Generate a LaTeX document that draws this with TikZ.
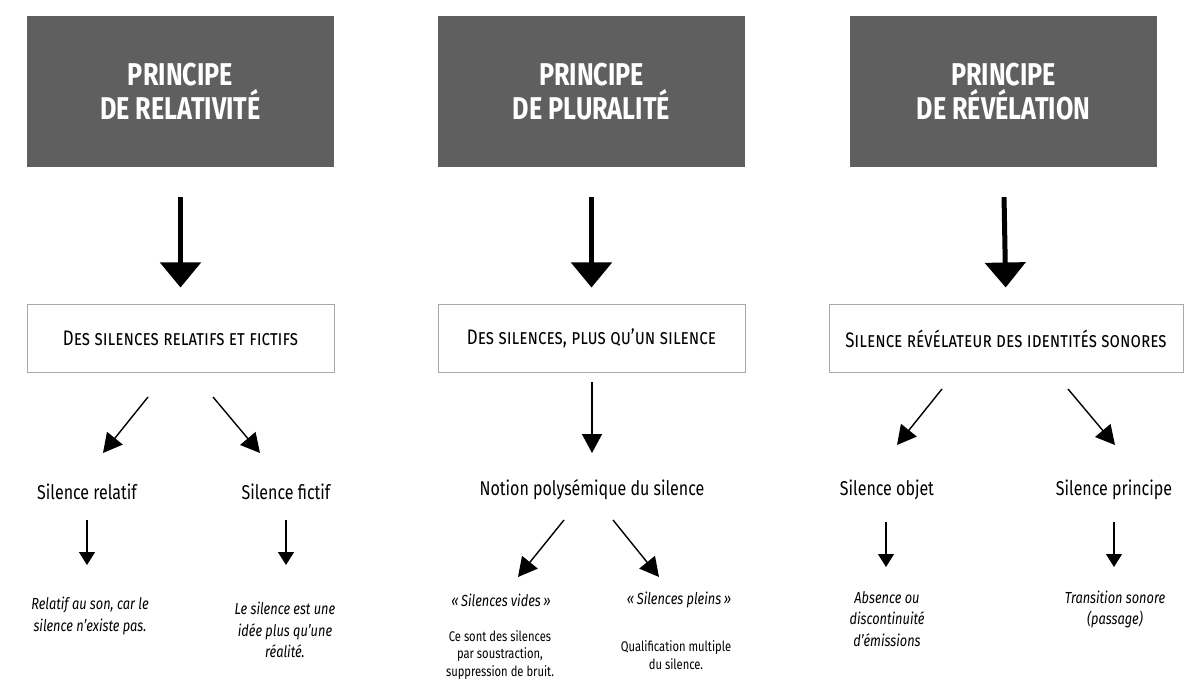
\documentclass[tikz,border=0pt]{standalone}
\usepackage{fontspec}
\setmainfont{Fira Sans}[FakeStretch=0.8]
\usetikzlibrary{arrows.meta}
\definecolor{hdr}{HTML}{5F5F5F}
\definecolor{bord}{HTML}{A8A8A8}
\definecolor{txt}{HTML}{000000}
\begin{document}
\begin{tikzpicture}[x=1pt,y=-1pt,
 hdrbox/.style={fill=hdr, minimum width=307pt, minimum height=151pt, text=white, font=\bfseries\fontsize{31.5}{34}\selectfont, align=center, inner sep=0pt},
 subbox/.style={draw=bord, line width=1pt, fill=white, minimum height=67pt, text=txt, font=\fontsize{21}{24}\selectfont, inner sep=0pt},
 lbl/.style={text=txt, font=\fontsize{20}{24}\selectfont},
 itl/.style={text=txt, font=\itshape\fontsize{16}{21.5}\selectfont, align=center},
 sml/.style={text=txt, font=\fontsize{14}{17.5}\selectfont, align=center},
 bigarrow/.style={line width=5pt, -{Triangle[width=40pt,length=25pt]}},
 midarrow/.style={line width=1.4pt, -{Triangle[width=20pt,length=19pt]}},
 thinarrow/.style={line width=1.3pt, -{Triangle[width=16pt,length=13pt]}},
]
\useasboundingbox (0,0) rectangle (1195,679);
% headers
\node[hdrbox] (h1) at (180.5,91.5) {PRINCIPE\\DE RELATIVITÉ};
\node[hdrbox] (h2) at (591.5,91.5) {PRINCIPE\\DE PLURALITÉ};
\node[hdrbox] (h3) at (1003.5,91.5) {PRINCIPE\\DE RÉVÉLATION};
% sub boxes
\node[subbox, minimum width=307pt] (w1) at (180.5,338.5) {\textsc{Des silences relatifs et fictifs}};
\node[subbox, minimum width=307pt] (w2) at (591.5,338.5) {\textsc{Des silences, plus qu’un silence}};
\node[subbox, minimum width=354pt] (w3) at (1006,338.5) {\textsc{Silence révélateur des identités sonores}};
% big arrows
\draw[bigarrow, shorten <=30pt, shorten >=17pt] (h1.south) -- (w1.north);
\draw[bigarrow, shorten <=30pt, shorten >=17pt] (h2.south) -- (w2.north);
\draw[bigarrow, shorten <=30pt, shorten >=17pt] (h3.south) -- (w3.north);
% column 1
\node[lbl] (l1) at (87,492) {Silence relatif};
\node[lbl] (l2) at (286,492) {Silence fictif};
\node[itl] (t1) at (90,616) {Relatif au son, car le\\silence n’existe pas.};
\node[itl] (t2) at (285,630) {Le silence est une\\idée plus qu’une\\réalité.};
\coordinate (a1s) at (148,397); \coordinate (a1e) at (103,453);
\coordinate (a2s) at (213,397); \coordinate (a2e) at (260,453);
\coordinate (a3s) at (87,520); \coordinate (a3e) at (87,565);
\coordinate (a4s) at (286,520); \coordinate (a4e) at (286,565);
\draw[midarrow] (a1s) -- (a1e);
\draw[midarrow] (a2s) -- (a2e);
\draw[thinarrow] (a3s) -- (a3e);
\draw[thinarrow] (a4s) -- (a4e);
% column 2
\node[lbl] (n2) at (592,490) {Notion polysémique du silence};
\node[itl] (q1) at (501,600) {«\,Silences vides\,»};
\node[itl] (q2) at (679,600) {«\,Silences pleins\,»};
\node[sml] (s1) at (500,655) {Ce sont des silences\\par soustraction,\\suppression de bruit.};
\node[sml] (s2) at (676,655) {Qualification multiple\\du silence.};
\coordinate (b0s) at (592,382); \coordinate (b0e) at (592,453);
\coordinate (b1s) at (564,520); \coordinate (b1e) at (518,577);
\coordinate (b2s) at (613,520); \coordinate (b2e) at (659,577);
\draw[midarrow] (b0s) -- (b0e);
\draw[midarrow] (b1s) -- (b1e);
\draw[midarrow] (b2s) -- (b2e);
% column 3
\node[lbl] (l5) at (887,490) {Silence objet};
\node[lbl] (l6) at (1114,490) {Silence principe};
\node[itl] (t5) at (887,619) {Absence ou\\discontinuité\\d’émissions};
\node[itl] (t6) at (1115,609.5) {Transition sonore\\(passage)};
\coordinate (c1s) at (942,389); \coordinate (c1e) at (897,445);
\coordinate (c2s) at (1068,389); \coordinate (c2e) at (1115,445);
\coordinate (c3s) at (886,522); \coordinate (c3e) at (886,567);
\coordinate (c4s) at (1114,522); \coordinate (c4e) at (1114,567);
\draw[midarrow] (c1s) -- (c1e);
\draw[midarrow] (c2s) -- (c2e);
\draw[thinarrow] (c3s) -- (c3e);
\draw[thinarrow] (c4s) -- (c4e);
\end{tikzpicture}
\end{document}
